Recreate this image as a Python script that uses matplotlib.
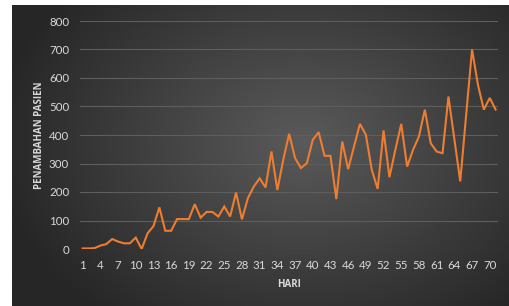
import numpy as np
import matplotlib
matplotlib.use("Agg")
import matplotlib.pyplot as plt

days = list(range(1, 72))
values = [2, 2, 3, 12, 17, 35, 26, 20, 20, 40,
          0, 55, 80, 146, 64, 64, 105, 105, 105, 157,
          110, 130, 130, 114, 149, 114, 198, 104, 178, 219,
          248, 216, 342, 207, 313, 404, 319, 284, 301, 383,
          410, 327, 327, 175, 377, 280, 360, 439, 401, 278,
          211, 416, 252, 348, 439, 289, 348, 395, 489, 371,
          342, 336, 535, 386, 237, 470, 700, 576, 489, 530,
          489]
xticks = list(range(1, 71, 3))
yticks = [0, 100, 200, 300, 400, 500, 600, 700, 800]
xlabel = "HARI"
ylabel = "PENAMBAHAN PASIEN"

plt.rcParams['font.family'] = ['Lato', 'DejaVu Sans']

W, H = 510, 306
fig = plt.figure(figsize=(W / 100, H / 100), dpi=100, facecolor='white')

# background gradient panel
bg = fig.add_axes([12 / W, 0, 1 - 12 / W, 1 - 5 / H])
bg.set_axis_off()
ny, nx = 200, 330
yy, xx = np.mgrid[0:ny, 0:nx]
cx, cy = nx * 0.58, ny * 0.45
r = np.sqrt(((xx - cx) / (nx * 0.62)) ** 2 + ((yy - cy) / (ny * 0.75)) ** 2)
r = np.clip(r, 0, 1)
inner = np.array([0x5a, 0x5a, 0x5a]) / 255
outer = np.array([0x26, 0x26, 0x26]) / 255
img = inner[None, None, :] * (1 - r[..., None]) + outer[None, None, :] * r[..., None]
bg.imshow(img, aspect='auto', extent=[0, 1, 0, 1], origin='upper')
bg.set_xlim(0, 1)
bg.set_ylim(0, 1)

left = 80.3 / W
right = 498.0 / W
bottom = (H - 249) / H
top = (H - 21) / H
ax = fig.add_axes([left, bottom, right - left, top - bottom])
ax.patch.set_alpha(0)

ax.plot(days, values, color='#ED7D31', linewidth=1.5, solid_joinstyle='miter', zorder=3)

ax.set_xlim(0.6, 71.4)
ax.set_ylim(0, 800)
ax.set_yticks(yticks)
ax.set_xticks(xticks)
ax.set_xticklabels([str(t) for t in xticks])
ax.set_yticklabels([str(t) for t in yticks])
ax.grid(axis='y', color='#5e5e5e', linewidth=0.8)
ax.set_axisbelow(True)
for s in ax.spines.values():
    s.set_visible(False)
ax.tick_params(axis='both', length=0, colors='#d9d9d9', labelsize=8.3)
ax.tick_params(axis='y', pad=8)
ax.tick_params(axis='x', pad=8)

ax.set_xlabel(xlabel, color='#d9d9d9', fontsize=7, fontweight='bold',
              family=['Open Sans', 'DejaVu Sans'], labelpad=6)
ax.set_ylabel(ylabel, color='#d9d9d9', fontsize=7, fontweight='bold',
              family=['Open Sans', 'DejaVu Sans'], labelpad=2.5)

fig.savefig('out.png', dpi=100, facecolor='white')
